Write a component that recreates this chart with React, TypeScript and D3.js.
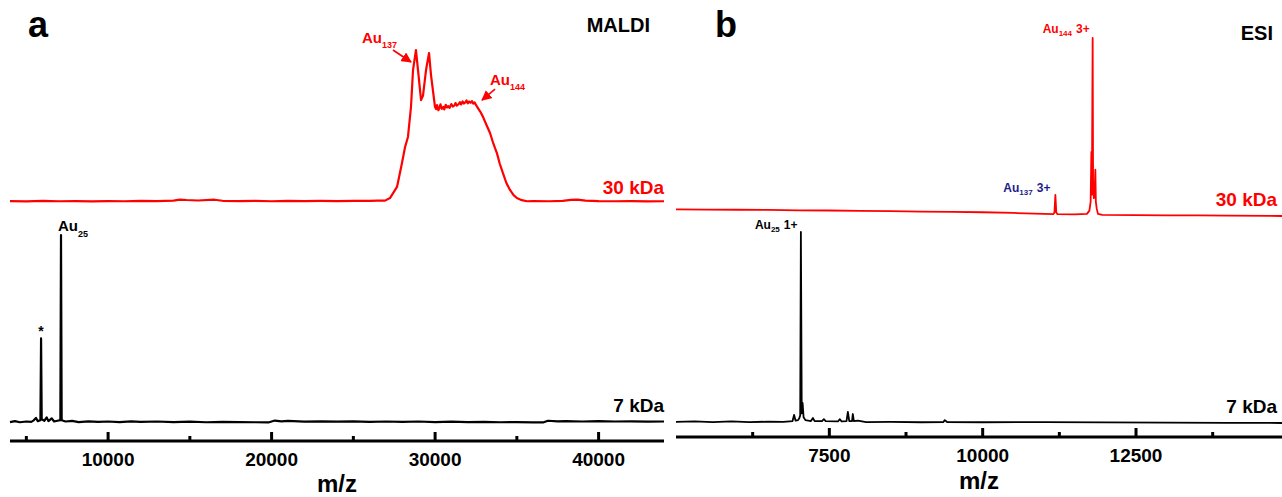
import React from "react";
import * as d3 from "d3";

// ---------- data ----------
const maldiMajorTicks = [10000, 20000, 30000, 40000];
const maldiMinorTicks = [5000, 15000, 25000, 35000];
const esiMajorTicks = [7500, 10000, 12500];
const esiMinorTicks = [6250, 8750, 11250, 13750];

// MALDI, 30 kDa sample (m/z, relative intensity)
const maldi30k: [number, number][] = [
  [4000, 0.6], [5000, 0.4], [6000, 0.7], [7000, 0.5], [8000, 0.6], [9000, 0.4], [10000, 0.6],
  [11000, 0.5], [12000, 0.7], [13000, 0.6], [14000, 0.9], [14400, 1.6], [14800, 1.3], [15500, 1.0],
  [16500, 1.5], [17000, 0.8], [18000, 0.6], [19000, 0.7], [20000, 0.5], [21000, 0.8], [22000, 0.6],
  [23000, 0.7], [24000, 0.6], [25000, 0.8], [26000, 0.7], [26500, 0.9], [26940, 0.9], [27240, 2.6],
  [27670, 9.9], [27975, 25.7], [28160, 36], [28340, 42.8], [28525, 62.5], [28650, 86.8], [28830, 100],
  [28955, 86.8], [29140, 67], [29260, 70], [29445, 86.8], [29630, 98], [29750, 83.5], [29995, 62.5],
  [30060, 61.2], [30120, 63.8], [30200, 60.4], [30270, 62.1], [30330, 64.2], [30410, 61.3], [30500, 62.6],
  [30560, 60.9], [30650, 63.9], [30730, 62.2], [30800, 63.1], [30880, 61.9], [30990, 64.4], [31080, 62.8],
  [31180, 63.6], [31250, 65.1], [31330, 63.4], [31430, 64.3], [31520, 65.7], [31590, 64.2], [31680, 66.2],
  [31760, 64.8], [31850, 65.6], [31920, 66.8], [32000, 64.9], [32080, 66.1], [32170, 65.3], [32260, 66.4],
  [32330, 64.7], [32420, 65.5], [32480, 64.2], [32620, 61.8], [32760, 59.5], [32930, 56], [33150, 50.5],
  [33360, 45.4], [33560, 38.5], [33785, 32], [33960, 25], [34150, 19], [34360, 12.5], [34580, 7.9],
  [34800, 4.5], [35000, 2.6], [35300, 1.2], [35620, 0.5], [36000, 0.6], [37000, 0.5], [37800, 0.8],
  [38300, 1.4], [38700, 1.6], [39200, 0.9], [40000, 0.6], [41000, 0.5], [42000, 0.6], [43000, 0.4],
  [44000, 0.5],
];

// MALDI, 7 kDa sample
const maldi7k: [number, number][] = [
  [4000, 0.5], [4300, 1.0], [4600, 0.4], [5000, 0.8], [5300, 0.6], [5450, 1.4], [5590, 2.7],
  [5700, 1.0], [5860, 1.5], [5900, 45], [5940, 2.0], [6100, 1.2], [6245, 3.0], [6350, 1.0],
  [6550, 2.5], [6700, 0.8], [6900, 1.2], [7080, 1.5], [7119, 100], [7160, 1.5], [7400, 0.8],
  [7800, 1.1], [8200, 0.5], [8800, 0.9], [9400, 0.6], [10000, 0.8], [10700, 0.5], [11400, 0.9],
  [12000, 0.6], [13000, 0.8], [14000, 0.5], [15000, 0.7], [16000, 0.4], [17000, 0.6], [18000, 0.5],
  [19000, 0.4], [19800, 0.3], [20200, 1.3], [20600, 0.9], [21000, 1.1], [22000, 0.7], [23000, 0.9],
  [24000, 0.7], [25000, 0.9], [26000, 0.6], [27000, 0.8], [28000, 0.6], [29000, 0.8], [30000, 0.5],
  [31000, 0.7], [32000, 0.5], [33000, 0.6], [34000, 0.4], [35000, 0.5], [36000, 0.3], [36600, 0.3],
  [36900, 1.2], [37500, 0.9], [38000, 1.0], [39000, 0.8], [40000, 1.0], [41000, 0.8], [42000, 0.9],
  [43000, 0.7], [44000, 0.8],
];

// ESI, 30 kDa sample
const esi30k: [number, number][] = [
  [5000, 3.7], [5500, 3.6], [6000, 3.5], [6500, 3.4], [7000, 3.2], [7500, 3.1], [8000, 2.9],
  [8500, 2.7], [9000, 2.5], [9500, 2.3], [10000, 2.1], [10500, 1.7], [11000, 1.2], [11150, 1.0],
  [11170, 2.0], [11185, 11.8], [11200, 2.0], [11220, 1.0], [11500, 0.9], [11700, 1.2], [11740, 3],
  [11760, 8], [11772, 36], [11780, 12], [11793, 100], [11800, 20], [11812, 10], [11825, 12],
  [11837, 26], [11845, 8], [11860, 4], [11880, 1.2], [11950, 0.6], [12500, 0.5], [13000, 0.4],
  [13500, 0.3], [14000, 0.2], [14880, 0.0],
];

// ESI, 7 kDa sample
const esi7k: [number, number][] = [
  [5000, 0.6], [5300, 0.9], [5600, 0.5], [5900, 0.8], [6200, 0.5], [6500, 0.7], [6750, 0.6],
  [6900, 1.0], [6925, 4.2], [6950, 1.2], [6990, 1.5], [7010, 2.5], [7025, 4.0], [7036, 100],
  [7050, 5.0], [7064, 10.5], [7080, 3.0], [7110, 1.5], [7200, 1.0], [7232, 2.6], [7260, 1.0],
  [7380, 1.0], [7411, 2.0], [7440, 1.0], [7640, 0.8], [7672, 2.0], [7700, 0.8], [7780, 1.0],
  [7802, 5.8], [7825, 1.0], [7870, 1.0], [7883, 4.7], [7900, 1.0], [7965, 1.2], [8100, 0.5],
  [8500, 0.6], [9000, 0.4], [9360, 0.5], [9382, 1.5], [9420, 0.5], [10000, 0.4], [11000, 0.5],
  [12000, 0.3], [13000, 0.2], [14000, 0.1], [14880, 0.0],
];

// ---------- layout ----------
const W = 1282;
const H = 497;
const FONT = "'Liberation Sans', Arial, Helvetica, sans-serif";
const RED = "#ff0000";
const NAVY = "#1c1c8a";

const xA = d3.scaleLinear().domain([4000, 44000]).range([10, 664]);
const yA30 = d3.scaleLinear().domain([0, 100]).range([202, 50]);
const yA7 = d3.scaleLinear().domain([0, 100]).range([423, 235]);
const axisYA = 441;

const xB = d3.scaleLinear().domain([5000, 14880]).range([676, 1282]);
const yB30 = d3.scaleLinear().domain([0, 100]).range([216, 38]);
const yB7 = d3.scaleLinear().domain([0, 100]).range([423, 232]);
const axisYB = 437;

function linePath(data: [number, number][], x: d3.ScaleLinear<number, number>, y: d3.ScaleLinear<number, number>) {
  return d3.line<[number, number]>().x((d) => x(d[0])).y((d) => y(d[1]))(data) || "";
}

function Axis({ x, y, major, minor, labelY, titleY }: any) {
  const [r0, r1] = x.range();
  return (
    <g>
      <line x1={r0} x2={r1} y1={y} y2={y} stroke="#000" strokeWidth={3} />
      {major.map((t: number) => (
        <g key={"M" + t}>
          <line x1={x(t)} x2={x(t)} y1={y} y2={y - 9} stroke="#000" strokeWidth={3} />
          <text x={x(t)} y={labelY} textAnchor="middle" fontFamily={FONT} fontWeight="bold" fontSize={19} fill="#000">
            {t}
          </text>
        </g>
      ))}
      {minor.map((t: number) => (
        <line key={"m" + t} x1={x(t)} x2={x(t)} y1={y} y2={y - 5} stroke="#000" strokeWidth={3} />
      ))}
      <text x={(r0 + r1) / 2} y={titleY} textAnchor="middle" fontFamily={FONT} fontWeight="bold" fontSize={24} fill="#000">
        m/z
      </text>
    </g>
  );
}

export default function App() {
  const a1Tip = [xA(28830) - 5, yA30(100) + 12];
  const a2Tip = [xA(32870), yA30(67)];
  return (
    <svg width={W} height={H} style={{ position: "absolute", left: 0, top: 0, background: "#fff" }}>
      <defs>
        <marker id="arrRed" viewBox="0 0 10 10" refX="9" refY="5" markerWidth="6.5" markerHeight="6.5" orient="auto">
          <path d="M0,0 L10,5 L0,10 z" fill={RED} />
        </marker>
      </defs>
      <rect x={0} y={0} width={W} height={H} fill="#fff" />

      {/* ---------- Panel a ---------- */}
      <text x={28} y={37} fontFamily={FONT} fontWeight="bold" fontSize={36} fill="#000">a</text>
      <text x={650} y={32} textAnchor="end" fontFamily={FONT} fontWeight="bold" fontSize={20} fill="#000">MALDI</text>

      <path d={linePath(maldi30k, xA, yA30)} fill="none" stroke={RED} strokeWidth={2.2} strokeLinejoin="round" />
      <path d={linePath(maldi7k, xA, yA7)} fill="none" stroke="#000" strokeWidth={2.2} strokeLinejoin="round" />

      <text x={664} y={194} textAnchor="end" fontFamily={FONT} fontWeight="bold" fontSize={19} fill={RED}>30 kDa</text>
      <text x={664} y={412} textAnchor="end" fontFamily={FONT} fontWeight="bold" fontSize={19} fill="#000">7 kDa</text>

      <text x={xA(28830) - 54} y={yA30(100) - 7} fontFamily={FONT} fontWeight="bold" fontSize={15} fill={RED}>
        Au<tspan fontSize={9} dy={5}>137</tspan>
      </text>
      <line x1={a1Tip[0] - 18} y1={a1Tip[1] - 12} x2={a1Tip[0]} y2={a1Tip[1]} stroke={RED} strokeWidth={1.6} markerEnd="url(#arrRed)" />
      <text x={a2Tip[0] + 8} y={a2Tip[1] - 15} fontFamily={FONT} fontWeight="bold" fontSize={15} fill={RED}>
        Au<tspan fontSize={9} dy={5}>144</tspan>
      </text>
      <line x1={a2Tip[0] + 13} y1={a2Tip[1] - 11} x2={a2Tip[0]} y2={a2Tip[1]} stroke={RED} strokeWidth={1.6} markerEnd="url(#arrRed)" />

      <text x={xA(7119) - 3} y={yA7(100) - 4} fontFamily={FONT} fontWeight="bold" fontSize={15} fill="#000">
        Au<tspan fontSize={9} dy={6}>25</tspan>
      </text>
      <text x={xA(5900)} y={yA7(45) - 2} textAnchor="middle" fontFamily={FONT} fontWeight="bold" fontSize={14} fill="#000">*</text>

      <Axis x={xA} y={axisYA} major={maldiMajorTicks} minor={maldiMinorTicks} labelY={466} titleY={492} />

      {/* ---------- Panel b ---------- */}
      <text x={715} y={37} fontFamily={FONT} fontWeight="bold" fontSize={36} fill="#000">b</text>
      <text x={1273} y={40} textAnchor="end" fontFamily={FONT} fontWeight="bold" fontSize={20} fill="#000">ESI</text>

      <path d={linePath(esi30k, xB, yB30)} fill="none" stroke={RED} strokeWidth={1.8} strokeLinejoin="round" />
      <path d={linePath(esi7k, xB, yB7)} fill="none" stroke="#000" strokeWidth={1.8} strokeLinejoin="round" />

      <text x={1277} y={206} textAnchor="end" fontFamily={FONT} fontWeight="bold" fontSize={19} fill={RED}>30 kDa</text>
      <text x={1277} y={413} textAnchor="end" fontFamily={FONT} fontWeight="bold" fontSize={19} fill="#000">7 kDa</text>

      <text x={xB(11793) - 50} y={yB30(100) - 5} fontFamily={FONT} fontWeight="bold" fontSize={12} fill={RED}>
        Au<tspan fontSize={8} dy={3}>144</tspan><tspan dy={-3} dx={4}>3+</tspan>
      </text>
      <text x={xB(11185) - 52} y={yB30(11.8) - 3} fontFamily={FONT} fontWeight="bold" fontSize={12} fill={NAVY}>
        Au<tspan fontSize={8} dy={3}>137</tspan><tspan dy={-3} dx={4}>3+</tspan>
      </text>
      <text x={xB(7036) - 46} y={yB7(100) - 3} fontFamily={FONT} fontWeight="bold" fontSize={12} fill="#000">
        Au<tspan fontSize={8} dy={3}>25</tspan><tspan dy={-3} dx={4}>1+</tspan>
      </text>

      <Axis x={xB} y={axisYB} major={esiMajorTicks} minor={esiMinorTicks} labelY={462} titleY={489} />
    </svg>
  );
}
